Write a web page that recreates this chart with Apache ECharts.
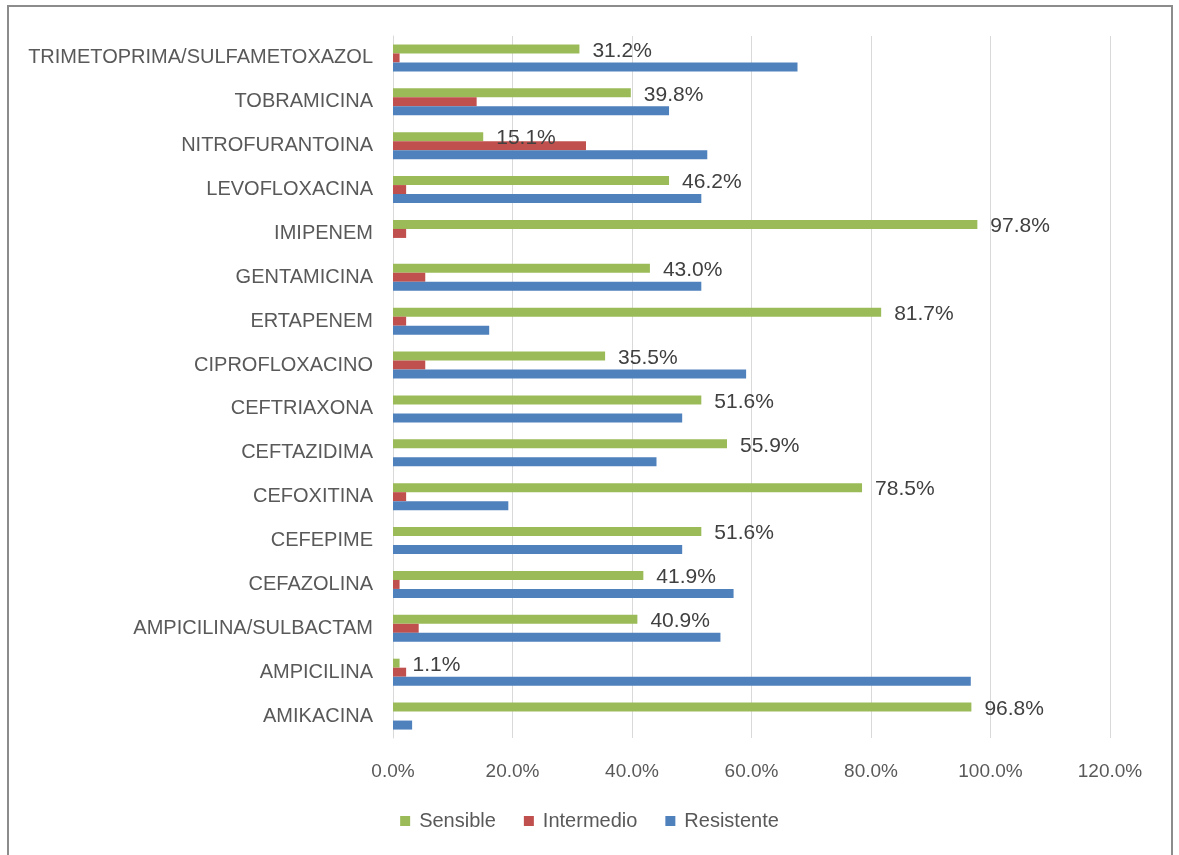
<!DOCTYPE html>
<html><head><meta charset="utf-8">
<script src="https://cdn.jsdelivr.net/npm/echarts@6/dist/echarts.min.js"></script>
<style>html,body{margin:0;padding:0;background:#fff}#c{width:1179px;height:855px}</style>
</head><body><div id="c"></div>
<script>
const categories = ['AMIKACINA','AMPICILINA','AMPICILINA/SULBACTAM','CEFAZOLINA','CEFEPIME','CEFOXITINA','CEFTAZIDIMA','CEFTRIAXONA','CIPROFLOXACINO','ERTAPENEM','GENTAMICINA','IMIPENEM','LEVOFLOXACINA','NITROFURANTOINA','TOBRAMICINA','TRIMETOPRIMA/SULFAMETOXAZOL'];
const sensible   = [96.8, 1.1, 40.9, 41.9, 51.6, 78.5, 55.9, 51.6, 35.5, 81.7, 43.0, 97.8, 46.2, 15.1, 39.8, 31.2];
const intermedio = [0, 2.2, 4.3, 1.1, 0, 2.2, 0, 0, 5.4, 2.2, 5.4, 2.2, 2.2, 32.3, 14.0, 1.1];
const resistente = [3.2, 96.7, 54.8, 57.0, 48.4, 19.3, 44.1, 48.4, 59.1, 16.1, 51.6, 0, 51.6, 52.6, 46.2, 67.7];
const xTicks = {min: 0, max: 120, interval: 20};
const FONT = '"Liberation Sans", Arial, sans-serif';
const chart = echarts.init(document.getElementById('c'));
chart.setOption({
  animation: false,
  textStyle: {fontFamily: FONT},
  graphic: [{type: 'rect', shape: {x: 8, y: 6, width: 1164, height: 860}, style: {fill: 'none', stroke: '#8c8c8c', lineWidth: 2}, silent: true}],
  grid: {left: 393, right: 69, top: 36, bottom: 117},
  legend: {
    data: ['Sensible', 'Intermedio', 'Resistente'],
    bottom: 19, left: 'center',
    itemWidth: 10, itemHeight: 10, itemGap: 28,
    icon: 'rect',
    textStyle: {fontSize: 20, color: '#595959', fontFamily: FONT, padding: [0, 0, 0, 4]}
  },
  xAxis: {
    type: 'value', min: xTicks.min, max: xTicks.max, interval: xTicks.interval,
    axisLabel: {formatter: v => v.toFixed(1) + '%', fontSize: 19, color: '#595959', margin: 24, fontFamily: FONT},
    splitLine: {lineStyle: {color: '#d9d9d9'}},
    axisLine: {show: false}, axisTick: {show: false}
  },
  yAxis: {
    type: 'category', data: categories,
    axisLabel: {fontSize: 20, color: '#595959', margin: 20, fontFamily: FONT},
    axisLine: {show: true, lineStyle: {color: '#d9d9d9'}},
    axisTick: {show: false}
  },
  series: [
    {name: 'Sensible', type: 'bar', data: sensible, barWidth: 9, barGap: '0%', itemStyle: {color: '#9BBB59'},
     label: {show: true, position: 'right', distance: 13, offset: [0, 2], formatter: p => p.value.toFixed(1) + '%', fontSize: 21, color: '#404040', fontFamily: FONT}},
    {name: 'Intermedio', type: 'bar', data: intermedio, barWidth: 9, barGap: '0%', itemStyle: {color: '#C0504D'}},
    {name: 'Resistente', type: 'bar', data: resistente, barWidth: 9, barGap: '0%', itemStyle: {color: '#4F81BD'}}
  ]
});
</script></body></html>
